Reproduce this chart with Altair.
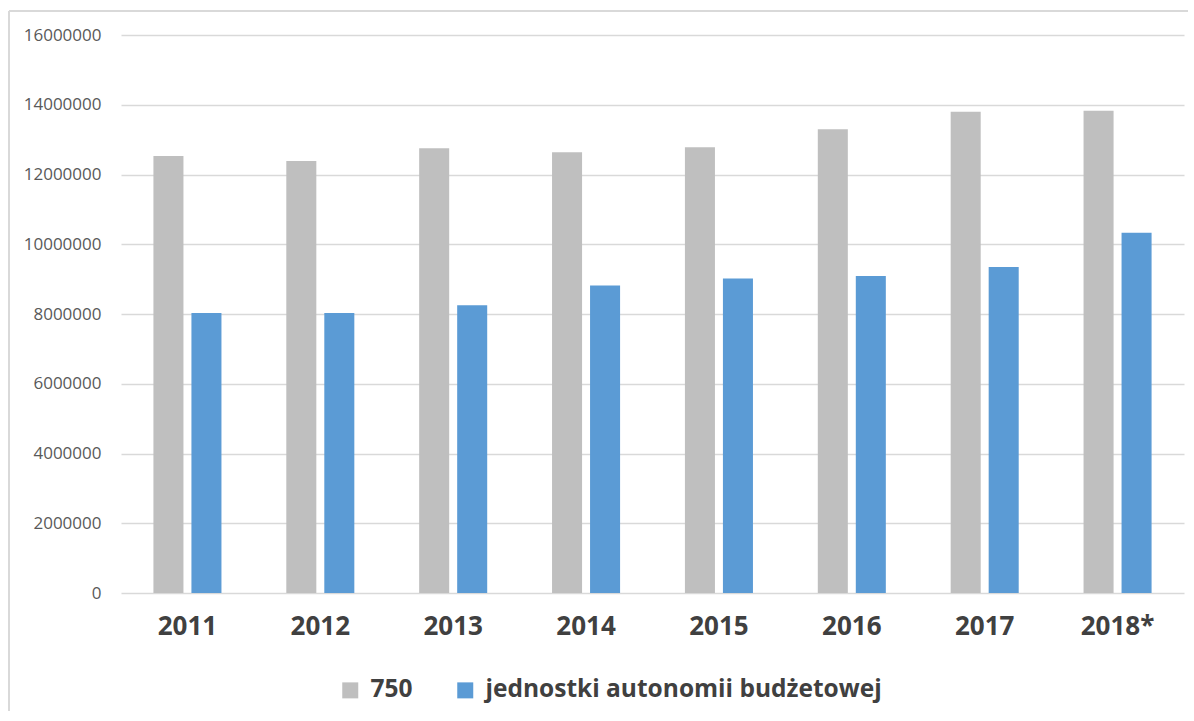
import altair as alt
import pandas as pd

years = ["2011", "2012", "2013", "2014", "2015", "2016", "2017", "2018*"]
series_names = ["750", "jednostki autonomii budżetowej"]
values_750 = [12530000, 12390000, 12750000, 12640000, 12780000, 13300000, 13800000, 13830000]
values_jab = [8030000, 8030000, 8250000, 8820000, 9020000, 9090000, 9350000, 10330000]
colors = ["#bfbfbf", "#5b9bd5"]
y_ticks = [0, 2000000, 4000000, 6000000, 8000000, 10000000, 12000000, 14000000, 16000000]

rows = []
for i, y in enumerate(years):
    rows.append({"rok": y, "seria": series_names[0], "wartosc": values_750[i]})
    rows.append({"rok": y, "seria": series_names[1], "wartosc": values_jab[i]})
df = pd.DataFrame(rows)

W, H = 1063, 558

bars = alt.Chart(df).mark_bar().encode(
    x=alt.X("rok:N", sort=years,
            scale=alt.Scale(paddingInner=0.488, paddingOuter=0.244),
            axis=alt.Axis(title=None, labelAngle=0, domain=False, ticks=False,
                          labelFont="Open Sans", labelFontSize=26, labelFontWeight="bold",
                          labelColor="#404040", labelPadding=20)),
    xOffset=alt.XOffset("seria:N", sort=series_names,
                        scale=alt.Scale(domain=series_names, paddingInner=0.21, paddingOuter=0)),
    y=alt.Y("wartosc:Q",
            scale=alt.Scale(domain=[0, 16000000], nice=False),
            axis=alt.Axis(title=None, values=y_ticks, format="d", domain=False, ticks=False,
                          labelFont="Open Sans", labelFontSize=17, labelColor="#595959",
                          labelPadding=20, gridColor="#d9d9d9", gridWidth=1.5)),
    color=alt.Color("seria:N", sort=series_names,
                    scale=alt.Scale(domain=series_names, range=colors),
                    legend=alt.Legend(title=None, orient="none", direction="horizontal",
                                      legendX=217, legendY=643,
                                      symbolType="square", symbolSize=256, symbolStrokeWidth=0,
                                      labelFont="Open Sans", labelFontSize=24.5, labelFontWeight="bold",
                                      labelColor="#404040", labelOffset=8, columnPadding=40,
                                      labelLimit=700)),
)

frame_data = alt.Data(values=[{"a": 1}])
frame_left = alt.Chart(frame_data).mark_rule(color="#d9d9d9", strokeWidth=2).encode(
    x=alt.value(-112), y=alt.value(-24), y2=alt.value(H + 200),
)
frame_top = alt.Chart(frame_data).mark_rule(color="#d9d9d9", strokeWidth=2).encode(
    x=alt.value(-112), x2=alt.value(W + 200), y=alt.value(-24),
)

chart = alt.layer(frame_left, frame_top, bars).properties(
    width=W, height=H,
    autosize=alt.AutoSizeParams(type="none"),
    padding={"left": 121, "top": 35, "right": 4, "bottom": 118},
    background="white",
).configure_view(stroke=None)

chart.save("out.html", embed_options={"renderer": "svg", "actions": False})
